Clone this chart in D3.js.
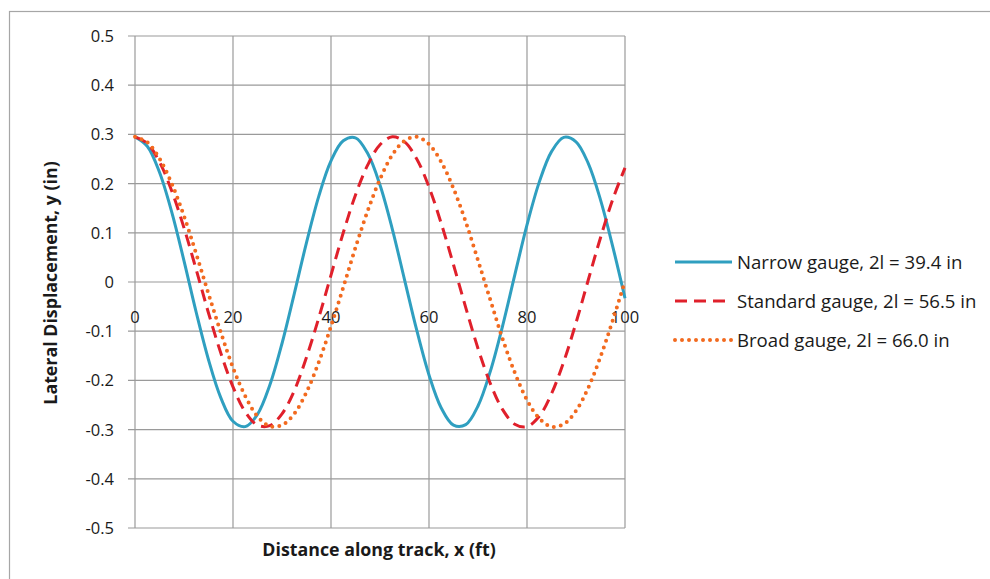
<!DOCTYPE html>
<html lang="en">

<head>
    <meta charset="utf-8">
    <title>Lateral displacement</title>
    <script src="https://d3js.org/d3.v7.min.js"></script>
    <style>
        body { margin: 0; background: #fff; }
        text { font-family: "Open Sans", Lato, sans-serif; fill: #1a1a1a; }
    </style>
</head>

<body>
    <script type="text/javascript">

        var w = 990;
        var h = 579;

        // distance along track (ft)
        var distance = [0, 2.5, 5, 7.5, 10, 12.5, 15, 17.5, 20, 22.5, 25, 27.5, 30, 32.5, 35, 37.5,
            40, 42.5, 45, 47.5, 50, 52.5, 55, 57.5, 60, 62.5, 65, 67.5, 70, 72.5, 75, 77.5,
            80, 82.5, 85, 87.5, 90, 92.5, 95, 97.5, 100];

        var narrow = [0.295, 0.276, 0.223, 0.142, 0.043, -0.062, -0.158, -0.235, -0.283, -0.294,
            -0.269, -0.210, -0.125, -0.024, 0.080, 0.174, 0.246, 0.287, 0.293, 0.261,
            0.197, 0.108, 0.005, -0.098, -0.189, -0.256, -0.291, -0.290, -0.252, -0.182,
            -0.090, 0.014, 0.116, 0.203, 0.265, 0.294, 0.285, 0.241, 0.167, 0.072, -0.033];

        var standard = [0.295, 0.282, 0.244, 0.185, 0.110, 0.025, -0.063, -0.144, -0.213, -0.264,
            -0.291, -0.292, -0.268, -0.221, -0.153, -0.073, 0.014, 0.100, 0.177, 0.238,
            0.279, 0.295, 0.285, 0.250, 0.193, 0.119, 0.035, -0.052, -0.135, -0.206,
            -0.259, -0.289, -0.294, -0.273, -0.227, -0.162, -0.083, 0.004, 0.090, 0.168, 0.232];

        var broad = [0.295, 0.284, 0.251, 0.200, 0.134, 0.057, -0.024, -0.102, -0.174, -0.232,
            -0.273, -0.293, -0.291, -0.268, -0.224, -0.163, -0.090, -0.011, 0.070, 0.145,
            0.209, 0.258, 0.287, 0.295, 0.280, 0.244, 0.190, 0.122, 0.044, -0.036,
            -0.115, -0.184, -0.240, -0.277, -0.294, -0.289, -0.262, -0.215, -0.152, -0.078, 0.002];

        var seriesNames = ["Narrow gauge, 2l = 39.4 in", "Standard gauge, 2l = 56.5 in", "Broad gauge, 2l = 66.0 in"];
        var xTicks = [0, 20, 40, 60, 80, 100];
        var yTicks = [-0.5, -0.4, -0.3, -0.2, -0.1, 0, 0.1, 0.2, 0.3, 0.4, 0.5];

        var series = [
            { name: seriesNames[0], values: narrow, color: "#2f9fc0", dash: null, cap: "butt", width: 3 },
            { name: seriesNames[1], values: standard, color: "#e0202b", dash: "12,7", cap: "butt", width: 3 },
            { name: seriesNames[2], values: broad, color: "#f26a1f", dash: "0,7", cap: "round", width: 4 }
        ];

        var plot = { left: 135, top: 36, right: 625, bottom: 528 };

        var x = d3.scaleLinear().domain([0, 100]).range([plot.left, plot.right]);
        var y = d3.scaleLinear().domain([-0.5, 0.5]).range([plot.bottom, plot.top]);

        var svg = d3.select("body")
            .append("svg")
            .attr("width", w)
            .attr("height", h);

        // outer chart frame (only top and left visible)
        svg.append("rect")
            .attr("x", 9.5)
            .attr("y", 11.5)
            .attr("width", 1000)
            .attr("height", 600)
            .attr("fill", "none")
            .attr("stroke", "#a6a6a6")
            .attr("stroke-width", 1.2);

        // grid
        svg.append("g")
            .selectAll("line")
            .data(yTicks)
            .enter()
            .append("line")
            .attr("x1", plot.left - 7)
            .attr("x2", plot.right)
            .attr("y1", function (d) { return y(d); })
            .attr("y2", function (d) { return y(d); })
            .attr("stroke", "#9a9a9a")
            .attr("stroke-width", 1.2);

        svg.append("g")
            .selectAll("line")
            .data(xTicks)
            .enter()
            .append("line")
            .attr("x1", function (d) { return x(d); })
            .attr("x2", function (d) { return x(d); })
            .attr("y1", plot.top)
            .attr("y2", plot.bottom)
            .attr("stroke", "#9a9a9a")
            .attr("stroke-width", 1.2);

        // y tick labels (plain hyphen, like the original)
        svg.append("g")
            .selectAll("text")
            .data(yTicks)
            .enter()
            .append("text")
            .attr("x", plot.left - 21)
            .attr("y", function (d) { return y(d); })
            .attr("dy", "0.36em")
            .attr("text-anchor", "end")
            .attr("font-size", 16.5)
            .text(function (d) { return String(d); });

        // x tick labels sit under the zero line
        svg.append("g")
            .selectAll("text")
            .data(xTicks)
            .enter()
            .append("text")
            .attr("x", function (d) { return x(d); })
            .attr("y", y(0) + 41)
            .attr("text-anchor", "middle")
            .attr("font-size", 16.5)
            .text(function (d) { return d; });

        // curves
        var line = d3.line()
            .x(function (d, i) { return x(distance[i]); })
            .y(function (d) { return y(d); })
            .curve(d3.curveCatmullRom);

        svg.append("g")
            .selectAll("path")
            .data(series)
            .enter()
            .append("path")
            .attr("d", function (d) { return line(d.values); })
            .attr("fill", "none")
            .attr("stroke", function (d) { return d.color; })
            .attr("stroke-width", function (d) { return d.width; })
            .attr("stroke-dasharray", function (d) { return d.dash; })
            .attr("stroke-linecap", function (d) { return d.cap; });

        // axis titles
        svg.append("text")
            .attr("x", 379)
            .attr("y", 556)
            .attr("text-anchor", "middle")
            .attr("font-size", 17.8)
            .attr("font-weight", "bold")
            .text("Distance along track, x (ft)");

        svg.append("text")
            .attr("transform", "translate(57,283) rotate(-90)")
            .attr("text-anchor", "middle")
            .attr("font-size", 17.8)
            .attr("font-weight", "bold")
            .text("Lateral Displacement, y (in)");

        // legend
        var legend = svg.append("g")
            .selectAll("g")
            .data(series)
            .enter()
            .append("g")
            .attr("transform", function (d, i) { return "translate(675," + (262 + i * 39) + ")"; });

        legend.append("line")
            .attr("x1", 0)
            .attr("x2", 57)
            .attr("stroke", function (d) { return d.color; })
            .attr("stroke-width", function (d) { return d.width; })
            .attr("stroke-dasharray", function (d) { return d.dash; })
            .attr("stroke-linecap", function (d) { return d.cap; });

        legend.append("text")
            .attr("x", 62)
            .attr("dy", "0.36em")
            .attr("font-size", 18.6)
            .text(function (d) { return d.name; });

    </script>
</body>

</html>
